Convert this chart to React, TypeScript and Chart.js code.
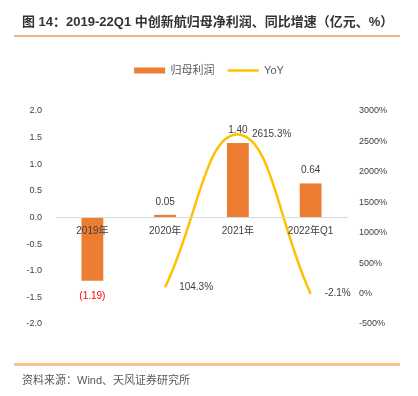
import React, { useEffect, useRef } from "react";
import { Chart, registerables } from "chart.js";

Chart.register(...registerables);

const categories = ["2019年", "2020年", "2021年", "2022年Q1"];
const profitValues = [-1.19, 0.05, 1.4, 0.64];
const profitLabels = ["(1.19)", "0.05", "1.40", "0.64"];
const yoyValues: (number | null)[] = [null, 104.3, 2615.3, -2.1];
const yoyLabels = ["", "104.3%", "2615.3%", "-2.1%"];
const leftAxis = { min: -2, max: 2, step: 0.5 };
const rightAxis = { min: -500, max: 3000, step: 500 };

const titleText = "图 14：2019-22Q1 中创新航归母净利润、同比增速（亿元、%）";
const sourceText = "资料来源：Wind、天风证券研究所";

const FONT = '"Liberation Sans", "Noto Sans CJK SC", sans-serif';
const BAR_COLOR = "#ED7D31";
const LINE_COLOR = "#FFC000";
const TEXT_COLOR = "#404040";

const labelPlugin = {
  id: "valueLabels",
  afterDatasetsDraw(chart: any) {
    const ctx = chart.ctx;
    ctx.save();
    ctx.font = `10px ${FONT}`;
    ctx.textBaseline = "middle";
    const barMeta = chart.getDatasetMeta(0);
    barMeta.data.forEach((el: any, i: number) => {
      const v = profitValues[i];
      ctx.textAlign = "center";
      if (v < 0) {
        ctx.fillStyle = "#FF0000";
        ctx.fillText(profitLabels[i], el.x, el.y + 15);
      } else {
        ctx.fillStyle = TEXT_COLOR;
        ctx.fillText(profitLabels[i], el.x, el.y - 13);
      }
    });
    const lineMeta = chart.getDatasetMeta(1);
    lineMeta.data.forEach((el: any, i: number) => {
      if (yoyValues[i] === null) return;
      ctx.textAlign = "left";
      ctx.fillStyle = TEXT_COLOR;
      ctx.fillText(yoyLabels[i], el.x + 14, el.y);
    });
    ctx.restore();
  },
};

function ChartView() {
  const ref = useRef<HTMLCanvasElement | null>(null);
  useEffect(() => {
    if (!ref.current) return;
    const chart = new Chart(ref.current, {
      type: "bar",
      data: {
        labels: categories,
        datasets: [
          {
            type: "bar",
            label: "归母利润",
            data: profitValues,
            backgroundColor: BAR_COLOR,
            borderWidth: 0,
            yAxisID: "y",
            barPercentage: 0.3,
            categoryPercentage: 1,
            order: 1,
            pointStyle: "rect",
          } as any,
          {
            type: "line",
            label: "YoY",
            data: yoyValues,
            borderColor: LINE_COLOR,
            backgroundColor: LINE_COLOR,
            borderWidth: 2.5,
            pointRadius: 0,
            tension: 0.45,
            yAxisID: "y1",
            order: 0,
            pointStyle: "line",
          } as any,
        ],
      },
      options: {
        responsive: false,
        animation: false,
        layout: { padding: { top: 52, bottom: 72, left: 0, right: 0 } },
        plugins: {
          legend: {
            display: true,
            position: "top",
            labels: {
              usePointStyle: true,
              pointStyleWidth: 31,
              boxHeight: 6,
              padding: 13,
              color: "#595959",
              font: { size: 11, family: FONT },
              sort: (a: any, b: any) => a.datasetIndex - b.datasetIndex,
            },
          },
          subtitle: {
            display: true,
            text: "",
            weight: 500,
            font: { size: 10 },
            padding: { top: 13, bottom: 0 },
          } as any,
          tooltip: { enabled: false },
        },
        scales: {
          x: {
            position: { y: 0 } as any,
            offset: true,
            grid: { display: false, drawTicks: false },
            border: { display: true, color: "#D9D9D9", width: 1, z: 1 },
            ticks: {
              color: TEXT_COLOR,
              font: { size: 10, family: FONT },
              padding: 8,
              maxRotation: 0,
              autoSkip: false,
              z: 1,
            },
            afterFit: (s: any) => {
              s.height = 0;
            },
          } as any,
          y: {
            position: "left",
            min: leftAxis.min,
            max: leftAxis.max,
            grid: { display: false, drawTicks: false },
            border: { display: false },
            ticks: {
              stepSize: leftAxis.step,
              color: TEXT_COLOR,
              font: { size: 9, family: FONT },
              padding: 14,
              callback: (v: any) => Number(v).toFixed(1),
            },
            afterFit: (s: any) => {
              s.width = 56;
            },
          },
          y1: {
            position: "right",
            min: rightAxis.min,
            max: rightAxis.max,
            grid: { display: false, drawTicks: false },
            border: { display: false },
            ticks: {
              stepSize: rightAxis.step,
              color: TEXT_COLOR,
              font: { size: 9, family: FONT },
              padding: 12,
              callback: (v: any) => `${v}%`,
            },
            afterFit: (s: any) => {
              s.width = 71;
            },
          },
        },
      },
      plugins: [labelPlugin],
    });
    return () => chart.destroy();
  }, []);
  return (
    <canvas
      ref={ref}
      width={418}
      height={396}
      style={{ position: "absolute", left: 0, top: 0, width: 418, height: 396 }}
    />
  );
}

export default function App() {
  return (
    <div
      style={{
        position: "absolute",
        left: 0,
        top: 0,
        width: 418,
        height: 396,
        background: "#ffffff",
        overflow: "hidden",
      }}
    >
      <ChartView />
      <div
        style={{
          position: "absolute",
          left: 22,
          top: 14,
          lineHeight: "16px",
          fontSize: 13,
          fontWeight: 700,
          fontFamily: FONT,
          color: "#333333",
          whiteSpace: "nowrap",
        }}
      >
        {titleText}
      </div>
      <div
        style={{
          position: "absolute",
          left: 14,
          top: 35,
          width: 386,
          height: 2,
          background: "#F4B183",
        }}
      />
      <div
        style={{
          position: "absolute",
          left: 14,
          top: 363,
          width: 386,
          height: 3,
          background: "#F9C493",
        }}
      />
      <div
        style={{
          position: "absolute",
          left: 22,
          top: 373,
          lineHeight: "14px",
          fontSize: 11,
          fontFamily: FONT,
          color: "#595959",
          whiteSpace: "nowrap",
        }}
      >
        {sourceText}
      </div>
    </div>
  );
}
